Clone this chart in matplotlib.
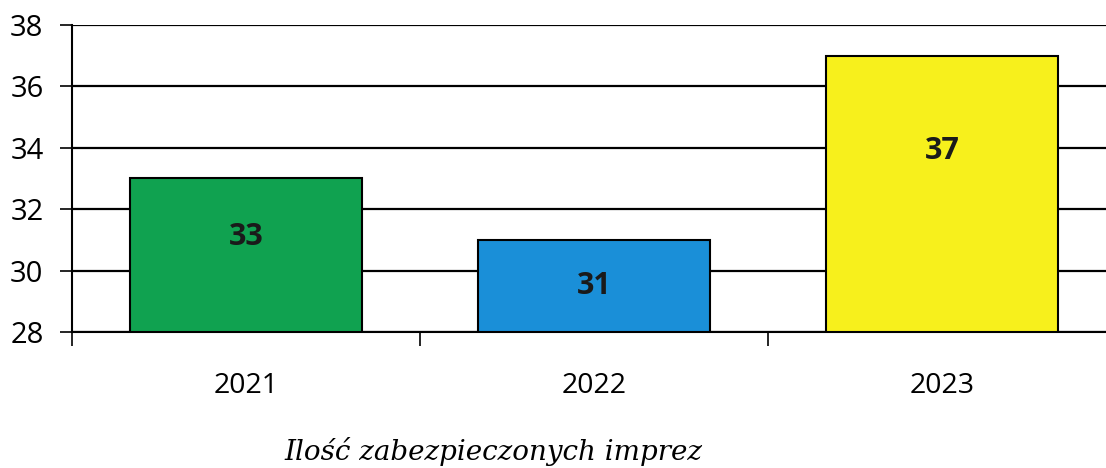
import matplotlib.pyplot as plt

years = ["2021", "2022", "2023"]
counts = [33, 31, 37]
label_pos = [31.1, 29.5, 33.9]
colors = ["#10a250", "#1a8fd8", "#f7f01c"]
caption = "Ilość zabezpieczonych imprez"

fig = plt.figure(figsize=(11.06, 4.68), dpi=100)
ax = fig.add_axes([0.0651, 0.2906, 0.944, 0.656])

x = range(len(years))
ax.bar(x, [c - 28 for c in counts], bottom=28, width=0.667, color=colors,
       edgecolor="black", linewidth=1.5, zorder=3)
for i, (c, p) in enumerate(zip(counts, label_pos)):
    ax.text(i, p, str(c), ha="center", va="center", fontsize=22,
            fontweight="bold", family="Open Sans", color="#1a1a1a", zorder=4)

ax.set_xlim(-0.5, 2.5)
ax.set_ylim(28, 38)
ax.set_yticks(range(28, 39, 2))
ax.yaxis.grid(True, color="black", linewidth=1.6, zorder=0)
ax.set_axisbelow(True)

ax.set_xticks([-0.5, 0.5, 1.5])
ax.set_xticklabels([])
ax.set_xticks(list(x), minor=True)
ax.set_xticklabels(years, minor=True)
ax.tick_params(axis="x", which="minor", length=0, pad=29, labelsize=20.5)
ax.tick_params(axis="x", which="major", length=10, width=1.2, direction="out")
ax.tick_params(axis="y", length=9, width=1.2, labelsize=21, pad=11.5)
for lbl in ax.get_xticklabels(minor=True) + ax.get_yticklabels():
    lbl.set_family("Open Sans")

for s in ["top", "right"]:
    ax.spines[s].set_visible(False)
ax.spines["left"].set_linewidth(1.5)
ax.spines["bottom"].set_linewidth(1.5)

fig.text(0.446, 0.017, caption, ha="center", va="baseline", fontsize=20,
         style="italic", family="DejaVu Serif")

fig.savefig("out.png", dpi=100)
